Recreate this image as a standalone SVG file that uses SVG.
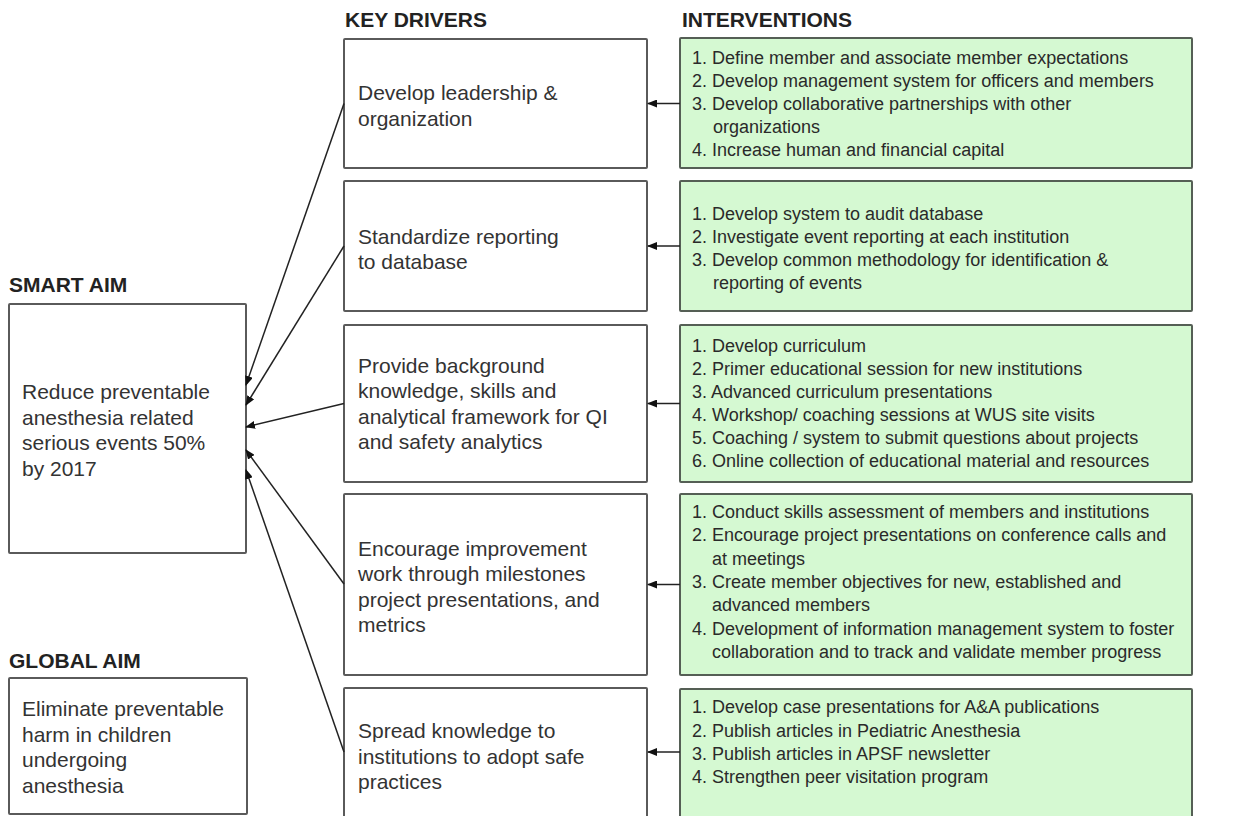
<svg xmlns="http://www.w3.org/2000/svg" width="1244" height="816" viewBox="0 0 1244 816">
<style>
  .hdr { font-family: "Liberation Sans", Arial, sans-serif; font-weight: bold; font-size: 21px; fill: #222; }
  .box { fill: #ffffff; stroke: #5a5a5a; stroke-width: 2; }
  .gbox { fill: #d5f9d2; stroke: #555f55; stroke-width: 2; }
  .t { font-family: "Liberation Sans", Arial, sans-serif; font-size: 21px; fill: #333; }
  .g { font-family: "Liberation Sans", Arial, sans-serif; font-size: 18px; fill: #2a2a2a; }
  .conn { stroke: #222; stroke-width: 1.5; fill: none; marker-end: url(#arr); }
</style>
<defs>
  <marker id="arr" markerWidth="10" markerHeight="8" refX="9" refY="4" orient="auto" markerUnits="userSpaceOnUse">
    <path d="M0,0 L10,4 L0,8 Z" fill="#111"/>
  </marker>
</defs>
<rect width="1244" height="816" fill="#ffffff"/>

<g id="headers">
  <text class="hdr" x="345" y="27">KEY DRIVERS</text>
  <text class="hdr" x="682" y="27">INTERVENTIONS</text>
  <text class="hdr" x="9" y="292">SMART AIM</text>
  <text class="hdr" x="9" y="668">GLOBAL AIM</text>
</g>

<g id="smart-aim">
  <rect class="box" x="9" y="304" width="237" height="249" rx="1"/>
  <text class="t" x="22" y="399">Reduce preventable</text>
  <text class="t" x="22" y="424.5">anesthesia related</text>
  <text class="t" x="22" y="450">serious events 50%</text>
  <text class="t" x="22" y="475.5">by 2017</text>
</g>

<g id="global-aim">
  <rect class="box" x="9" y="678" width="238" height="136" rx="1"/>
  <text class="t" x="22" y="716">Eliminate preventable</text>
  <text class="t" x="22" y="741.5">harm in children</text>
  <text class="t" x="22" y="767">undergoing</text>
  <text class="t" x="22" y="792.5">anesthesia</text>
</g>

<g id="driver-1">
  <rect class="box" x="344" y="39" width="303" height="129" rx="1"/>
  <text class="t" x="358" y="100">Develop leadership &amp;</text>
  <text class="t" x="358" y="125.5">organization</text>
</g>
<g id="driver-2">
  <rect class="box" x="344" y="181" width="303" height="130" rx="1"/>
  <text class="t" x="358" y="243.5">Standardize reporting</text>
  <text class="t" x="358" y="269">to database</text>
</g>
<g id="driver-3">
  <rect class="box" x="344" y="325" width="303" height="157" rx="1"/>
  <text class="t" x="358" y="372.5">Provide background</text>
  <text class="t" x="358" y="398">knowledge, skills and</text>
  <text class="t" x="358" y="423.5">analytical framework for QI</text>
  <text class="t" x="358" y="449">and safety analytics</text>
</g>
<g id="driver-4">
  <rect class="box" x="344" y="494" width="303" height="181" rx="1"/>
  <text class="t" x="358" y="555.5">Encourage improvement</text>
  <text class="t" x="358" y="581">work through milestones</text>
  <text class="t" x="358" y="606.5">project presentations, and</text>
  <text class="t" x="358" y="632">metrics</text>
</g>
<g id="driver-5">
  <rect class="box" x="344" y="688" width="303" height="132" rx="1"/>
  <text class="t" x="358" y="738">Spread knowledge to</text>
  <text class="t" x="358" y="763.5">institutions to adopt safe</text>
  <text class="t" x="358" y="789">practices</text>
</g>

<g id="interventions-1">
  <rect class="gbox" x="680" y="38" width="512" height="130" rx="1"/>
  <text class="g" x="692" y="64">1. Define member and associate member expectations</text>
  <text class="g" x="692" y="87">2. Develop management system for officers and members</text>
  <text class="g" x="692" y="110">3. Develop collaborative partnerships with other</text>
  <text class="g" x="713" y="133">organizations</text>
  <text class="g" x="692" y="156">4. Increase human and financial capital</text>
</g>
<g id="interventions-2">
  <rect class="gbox" x="680" y="181" width="512" height="130" rx="1"/>
  <text class="g" x="692" y="220">1. Develop system to audit database</text>
  <text class="g" x="692" y="243">2. Investigate event reporting at each institution</text>
  <text class="g" x="692" y="266">3. Develop common methodology for identification &amp;</text>
  <text class="g" x="713" y="289">reporting of events</text>
</g>
<g id="interventions-3">
  <rect class="gbox" x="680" y="325" width="512" height="157" rx="1"/>
  <text class="g" x="692" y="352">1. Develop curriculum</text>
  <text class="g" x="692" y="375">2. Primer educational session for new institutions</text>
  <text class="g" x="692" y="398">3. Advanced curriculum presentations</text>
  <text class="g" x="692" y="421">4. Workshop/ coaching sessions at WUS site visits</text>
  <text class="g" x="692" y="444">5. Coaching / system to submit questions about projects</text>
  <text class="g" x="692" y="467">6. Online collection of educational material and resources</text>
</g>
<g id="interventions-4">
  <rect class="gbox" x="680" y="494" width="512" height="181" rx="1"/>
  <text class="g" x="692" y="518">1. Conduct skills assessment of members and institutions</text>
  <text class="g" x="692" y="541">2. Encourage project presentations on conference calls and</text>
  <text class="g" x="712" y="565">at meetings</text>
  <text class="g" x="692" y="588">3. Create member objectives for new, established and</text>
  <text class="g" x="712" y="611">advanced members</text>
  <text class="g" x="692" y="635">4. Development of information management system to foster</text>
  <text class="g" x="712" y="658">collaboration and to track and validate member progress</text>
</g>
<g id="interventions-5">
  <rect class="gbox" x="680" y="689" width="512" height="131" rx="1"/>
  <text class="g" x="692" y="713">1. Develop case presentations for A&amp;A publications</text>
  <text class="g" x="692" y="737">2. Publish articles in Pediatric Anesthesia</text>
  <text class="g" x="692" y="760">3. Publish articles in APSF newsletter</text>
  <text class="g" x="692" y="783">4. Strengthen peer visitation program</text>
</g>

<g id="connectors">
  <line class="conn" x1="344" y1="103.5" x2="246" y2="385"/>
  <line class="conn" x1="344" y1="246" x2="246" y2="405"/>
  <line class="conn" x1="344" y1="403.5" x2="246" y2="427"/>
  <line class="conn" x1="344" y1="584" x2="246" y2="450"/>
  <line class="conn" x1="344" y1="752" x2="246" y2="470"/>
  <line class="conn" x1="680" y1="103.5" x2="648" y2="103.5"/>
  <line class="conn" x1="680" y1="246" x2="648" y2="246"/>
  <line class="conn" x1="680" y1="403.5" x2="648" y2="403.5"/>
  <line class="conn" x1="680" y1="584.5" x2="648" y2="584.5"/>
  <line class="conn" x1="680" y1="752" x2="648" y2="752"/>
</g>
</svg>
